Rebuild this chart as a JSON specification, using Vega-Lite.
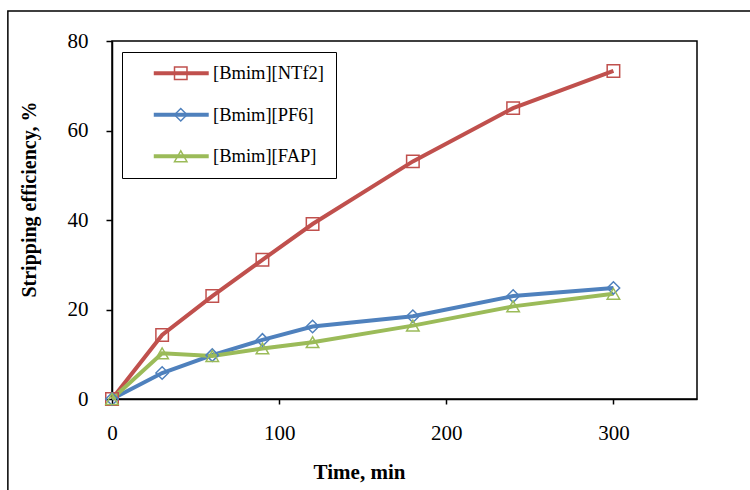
{
  "$schema": "https://vega.github.io/schema/vega-lite/v6.json",
  "width": 585,
  "height": 358,
  "autosize": "none",
  "padding": {"left": 112, "top": 41, "right": 53, "bottom": 91},
  "background": "white",
  "config": {
    "view": {"stroke": "black", "strokeWidth": 1.5},
    "font": "Liberation Serif"
  },
  "datasets": {
    "main": [
      {"time": 0, "eff": 0, "series": "[Bmim][NTf2]"},
      {"time": 30, "eff": 14.3, "series": "[Bmim][NTf2]"},
      {"time": 60, "eff": 23.0, "series": "[Bmim][NTf2]"},
      {"time": 90, "eff": 31.1, "series": "[Bmim][NTf2]"},
      {"time": 120, "eff": 39.1, "series": "[Bmim][NTf2]"},
      {"time": 180, "eff": 53.1, "series": "[Bmim][NTf2]"},
      {"time": 240, "eff": 65.0, "series": "[Bmim][NTf2]"},
      {"time": 300, "eff": 73.3, "series": "[Bmim][NTf2]"},
      {"time": 0, "eff": 0, "series": "[Bmim][PF6]"},
      {"time": 30, "eff": 5.8, "series": "[Bmim][PF6]"},
      {"time": 60, "eff": 9.8, "series": "[Bmim][PF6]"},
      {"time": 90, "eff": 13.2, "series": "[Bmim][PF6]"},
      {"time": 120, "eff": 16.2, "series": "[Bmim][PF6]"},
      {"time": 180, "eff": 18.5, "series": "[Bmim][PF6]"},
      {"time": 240, "eff": 23.0, "series": "[Bmim][PF6]"},
      {"time": 300, "eff": 24.8, "series": "[Bmim][PF6]"},
      {"time": 0, "eff": 0, "series": "[Bmim][FAP]"},
      {"time": 30, "eff": 10.2, "series": "[Bmim][FAP]"},
      {"time": 60, "eff": 9.6, "series": "[Bmim][FAP]"},
      {"time": 90, "eff": 11.3, "series": "[Bmim][FAP]"},
      {"time": 120, "eff": 12.7, "series": "[Bmim][FAP]"},
      {"time": 180, "eff": 16.4, "series": "[Bmim][FAP]"},
      {"time": 240, "eff": 20.7, "series": "[Bmim][FAP]"},
      {"time": 300, "eff": 23.5, "series": "[Bmim][FAP]"}
    ]
  },
  "layer": [
    {
      "data": {"values": [{}]},
      "mark": {"type": "rect", "fill": null, "stroke": "black", "strokeWidth": 1.5, "clip": false},
      "encoding": {
        "x": {"datum": -62.3, "type": "quantitative"},
        "x2": {"datum": 420},
        "y": {"datum": 86.7, "type": "quantitative"},
        "y2": {"datum": -40}
      }
    },
    {
      "data": {"name": "main"},
      "mark": {"type": "line", "strokeWidth": 4},
      "encoding": {
        "x": {
          "field": "time", "type": "quantitative",
          "scale": {"domain": [0, 350], "nice": false},
          "axis": {
            "title": "Time, min", "values": [0, 100, 200, 300], "grid": false, "labelFlush": false,
            "domainColor": "black", "domainWidth": 1.5,
            "tickColor": "black", "tickSize": 5, "tickWidth": 1.5,
            "labelFont": "Liberation Serif", "labelFontSize": 21, "labelColor": "black", "labelPadding": 18,
            "titleFont": "Liberation Serif", "titleFontSize": 21, "titleFontWeight": "bold", "titleColor": "black",
            "titleX": 247, "titleY": 73, "titleBaseline": "middle", "titleAlign": "center"
          }
        },
        "y": {
          "field": "eff", "type": "quantitative",
          "scale": {"domain": [0, 80], "nice": false},
          "axis": {
            "title": "Stripping efficiency, %", "values": [0, 20, 40, 60, 80], "grid": false, "labelFlush": false,
            "domainColor": "black", "domainWidth": 1.5,
            "tickColor": "black", "tickSize": 6, "tickWidth": 1.5,
            "labelFont": "Liberation Serif", "labelFontSize": 21, "labelColor": "black", "labelPadding": 18,
            "titleFont": "Liberation Serif", "titleFontSize": 20, "titleFontWeight": "bold", "titleColor": "black",
            "titleX": -83, "titleY": 158, "titleBaseline": "middle", "titleAlign": "center", "titleAngle": -90
          }
        },
        "color": {
          "field": "series", "type": "nominal",
          "sort": ["[Bmim][NTf2]", "[Bmim][PF6]", "[Bmim][FAP]"],
          "scale": {"range": ["#C0504D", "#4F81BD", "#9BBB59"]},
          "legend": {
            "title": null, "orient": "none", "legendX": 10, "legendY": 11,
            "padding": 12, "rowPadding": 22.5, "strokeColor": "black", "fillColor": "white",
            "symbolType": "M-4.4,0H4.4", "symbolSize": 156, "symbolStrokeWidth": 4,
            "symbolOffset": 38, "labelOffset": 22.5, "labelLimit": 0,
            "labelExpr": "datum.label + '     '",
            "labelFont": "Liberation Serif", "labelFontSize": 18.5, "labelColor": "black"
          }
        }
      }
    },
    {
      "data": {"name": "main"},
      "mark": {"type": "point", "filled": false, "size": 156, "strokeWidth": 1.5, "opacity": 1},
      "encoding": {
        "x": {"field": "time", "type": "quantitative"},
        "y": {"field": "eff", "type": "quantitative"},
        "color": {"field": "series", "type": "nominal", "sort": ["[Bmim][NTf2]", "[Bmim][PF6]", "[Bmim][FAP]"], "legend": null},
        "shape": {
          "field": "series", "type": "nominal",
          "scale": {"domain": ["[Bmim][NTf2]", "[Bmim][PF6]", "[Bmim][FAP]"], "range": ["square", "diamond", "triangle-up"]},
          "legend": {
            "title": null, "orient": "none", "legendX": 10, "legendY": 11,
            "padding": 12, "rowPadding": 22.5,
            "symbolSize": 156, "symbolStrokeWidth": 1.5, "symbolFillColor": "transparent",
            "symbolStrokeColor": {"expr": "scale('color', datum.value)"},
            "symbolOpacity": 1,
            "symbolOffset": 37.5, "labelOffset": 22.5, "labelLimit": 0, "labelOpacity": 0,
            "labelExpr": "''",
            "labelFont": "Liberation Serif", "labelFontSize": 18.5
          }
        }
      }
    }
  ]
}
